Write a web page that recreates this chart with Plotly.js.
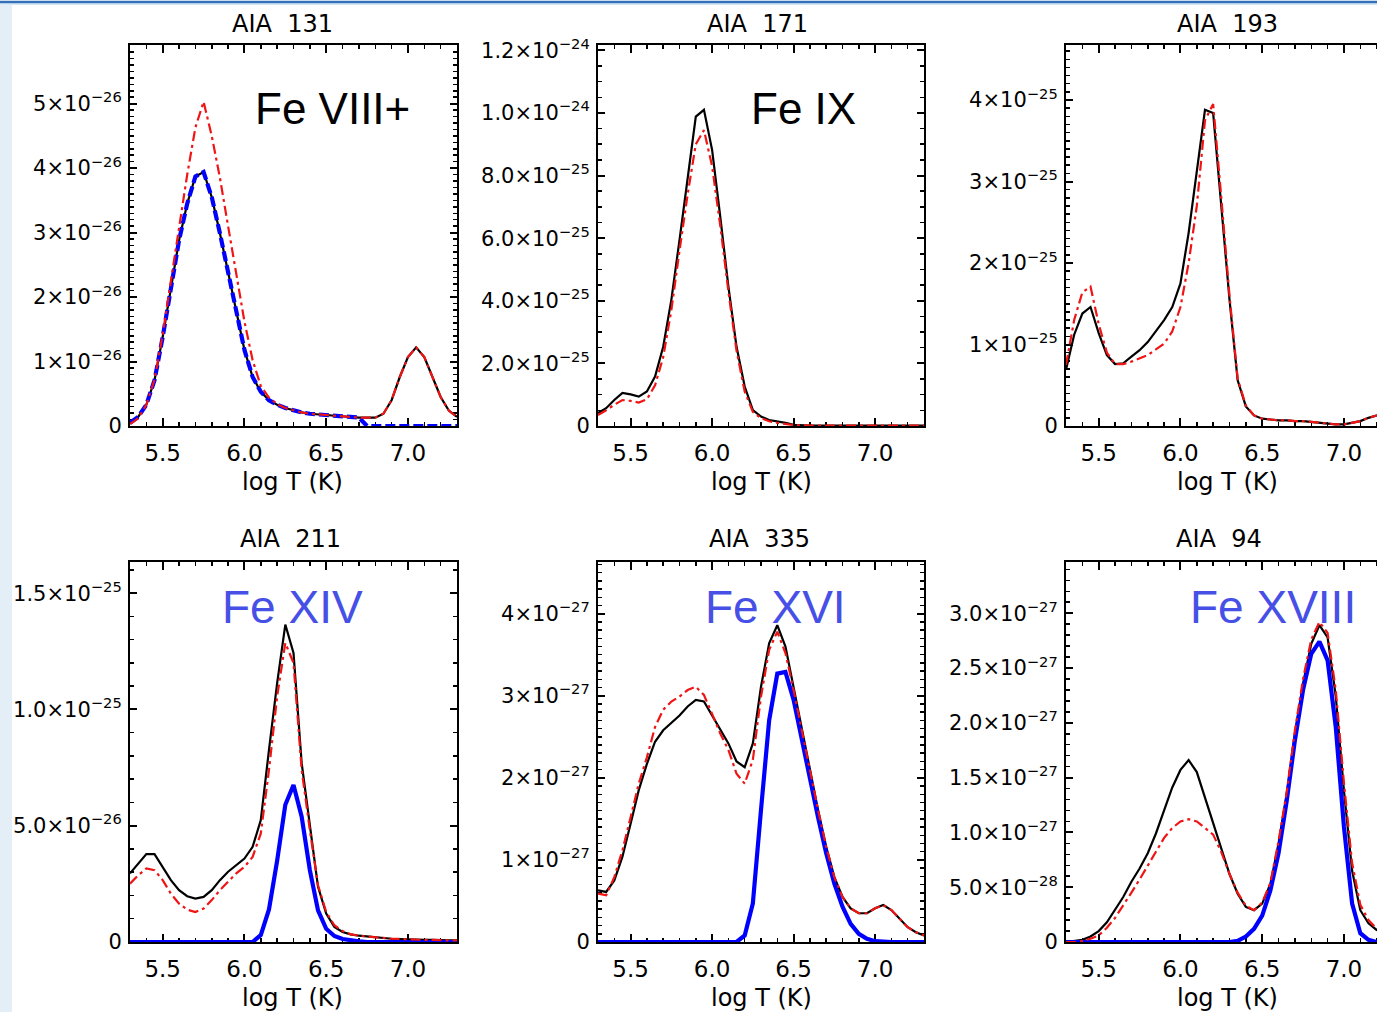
<!DOCTYPE html>
<html><head><meta charset="utf-8">
<script src="https://cdn.plot.ly/plotly-3.0.1.min.js"></script>
<style>
html,body{margin:0;padding:0;overflow:hidden;background:#fff;}
#wrap{width:1377px;height:1012px;overflow:hidden;}
#chart{width:1400px;height:1012px;}
</style>
</head><body><div id="wrap"><div id="chart"></div></div>
<script>
// ---- data (log T grid, values in units given per panel) ----
const logT = [5.30,5.35,5.40,5.45,5.50,5.55,5.60,5.65,5.70,5.75,5.80,5.85,5.90,5.95,6.00,6.05,6.10,6.15,6.20,6.25,6.30,6.35,6.40,6.45,6.50,6.55,6.60,6.65,6.70,6.75,6.80,6.85,6.90,6.95,7.00,7.05,7.10,7.15,7.20,7.25,7.30];

// AIA 131 (units 1e-26)
const aia131Black = [0.05,0.14,0.33,0.71,1.38,2.16,2.88,3.45,3.87,3.94,3.55,2.99,2.37,1.75,1.18,0.76,0.53,0.40,0.33,0.28,0.24,0.21,0.19,0.18,0.17,0.15,0.14,0.13,0.13,0.13,0.13,0.19,0.40,0.76,1.07,1.22,1.07,0.76,0.45,0.24,0.14];
const aia131Red   = [0.03,0.12,0.33,0.72,1.42,2.25,3.10,3.90,4.63,5.03,4.50,3.85,3.10,2.35,1.62,1.02,0.62,0.44,0.34,0.28,0.24,0.21,0.19,0.18,0.17,0.15,0.14,0.13,0.13,0.13,0.13,0.19,0.40,0.76,1.07,1.22,1.07,0.76,0.45,0.24,0.14];
const aia131Blue  = [0.05,0.14,0.33,0.71,1.38,2.16,2.88,3.45,3.87,3.94,3.55,2.99,2.37,1.75,1.18,0.76,0.53,0.40,0.33,0.28,0.24,0.21,0.19,0.18,0.17,0.15,0.14,0.13,0.13,0,0,0,0,0,0,0,0,0,0,0,0];

// AIA 171 (units 1e-25)
const aia171Black = [0.41,0.57,0.83,1.06,1.01,0.94,1.10,1.58,2.53,4.03,5.94,7.97,9.88,10.1,8.82,6.69,4.45,2.53,1.26,0.51,0.30,0.19,0.15,0.10,0.04,0.02,0.01,0.01,0.01,0.01,0.01,0.01,0.01,0.01,0.01,0.01,0.01,0.01,0.01,0.01,0.01];
const aia171Red   = [0.35,0.50,0.68,0.83,0.80,0.75,0.85,1.30,2.20,3.70,5.60,7.40,9.00,9.45,8.30,6.40,4.30,2.40,1.10,0.45,0.25,0.15,0.10,0.06,0.03,0.02,0.01,0.01,0.01,0.01,0.01,0.01,0.01,0.01,0.01,0.01,0.01,0.01,0.01,0.01,0.01];

// AIA 193 (units 1e-25)
const aia193Black = [0.69,1.12,1.38,1.46,1.14,0.87,0.76,0.77,0.85,0.93,1.03,1.16,1.30,1.46,1.75,2.37,3.10,3.88,3.84,2.69,1.55,0.56,0.24,0.13,0.09,0.08,0.07,0.07,0.06,0.06,0.05,0.04,0.03,0.02,0.02,0.04,0.06,0.10,0.13,0.16,0.19];
const aia193Red   = [0.75,1.30,1.64,1.71,1.25,0.90,0.76,0.76,0.79,0.83,0.87,0.94,1.01,1.16,1.46,2.00,2.70,3.75,3.95,2.80,1.60,0.58,0.25,0.13,0.09,0.08,0.07,0.07,0.06,0.06,0.05,0.04,0.03,0.02,0.02,0.04,0.06,0.10,0.13,0.16,0.19];

// AIA 211 (units 1e-26)
const aia211Black = [2.95,3.38,3.78,3.78,3.23,2.66,2.23,1.97,1.87,1.94,2.23,2.66,3.02,3.30,3.59,4.09,5.24,8.26,11.13,13.65,12.43,7.69,4.96,2.37,1.22,0.65,0.43,0.33,0.27,0.23,0.20,0.17,0.14,0.13,0.11,0.10,0.09,0.09,0.07,0.07,0.07];
const aia211Red   = [2.51,2.87,3.16,3.09,2.66,2.08,1.65,1.39,1.29,1.44,1.80,2.23,2.59,2.95,3.23,3.66,4.67,7.40,10.56,12.86,12.00,7.40,4.81,2.44,1.29,0.72,0.47,0.33,0.27,0.23,0.20,0.17,0.14,0.13,0.11,0.10,0.09,0.09,0.07,0.07,0.07];
const aia211Blue  = [0,0,0,0,0,0,0,0,0,0,0,0,0,0,0,0,0.30,1.40,3.50,5.90,6.75,5.39,3.09,1.36,0.57,0.26,0.13,0.06,0.03,0,0,0,0,0,0,0,0,0,0,0,0];

// AIA 335 (units 1e-27)
const aia335Black = [0.63,0.61,0.75,1.04,1.44,1.85,2.17,2.44,2.58,2.67,2.76,2.87,2.95,2.93,2.76,2.60,2.42,2.20,2.13,2.42,3.11,3.64,3.86,3.60,3.11,2.58,2.09,1.61,1.16,0.79,0.55,0.41,0.35,0.35,0.41,0.45,0.39,0.28,0.18,0.12,0.08];
const aia335Red   = [0.59,0.57,0.79,1.12,1.52,1.93,2.25,2.62,2.83,2.93,2.99,3.07,3.11,3.01,2.78,2.54,2.34,2.05,1.93,2.22,2.99,3.56,3.78,3.52,3.07,2.58,2.09,1.61,1.16,0.79,0.55,0.41,0.35,0.35,0.41,0.45,0.39,0.28,0.18,0.12,0.08];
const aia335Blue  = [0,0,0,0,0,0,0,0,0,0,0,0,0,0,0,0,0,0,0.08,0.47,1.61,2.70,3.27,3.29,2.95,2.46,1.97,1.52,1.08,0.71,0.43,0.22,0.10,0.04,0.01,0,0,0,0,0,0];

// AIA 94 (units 1e-27)
const aia94Black = [0,0.01,0.02,0.05,0.10,0.18,0.29,0.41,0.55,0.67,0.81,0.99,1.20,1.41,1.57,1.66,1.55,1.32,1.08,0.84,0.62,0.44,0.32,0.29,0.35,0.53,0.90,1.35,1.90,2.36,2.72,2.89,2.78,2.24,1.38,0.65,0.29,0.17,0.11,0.08,0.05];
const aia94Red   = [0,0,0.01,0.03,0.06,0.13,0.22,0.33,0.45,0.57,0.70,0.83,0.95,1.04,1.10,1.12,1.10,1.04,0.98,0.82,0.62,0.45,0.33,0.29,0.36,0.54,0.92,1.37,1.93,2.40,2.76,2.92,2.82,2.30,1.45,0.72,0.34,0.20,0.12,0.09,0.06];
const aia94Blue  = [0,0,0,0,0,0,0,0,0,0,0,0,0,0,0,0,0,0,0,0,0,0.01,0.05,0.12,0.24,0.47,0.81,1.29,1.84,2.30,2.63,2.74,2.57,1.96,1.05,0.35,0.08,0.02,0,0,0];

// tick labels
const xTickVals = [5.5,6.0,6.5,7.0];
const xTickText = ['5.5','6.0','6.5','7.0'];
const y131Vals = [0,1,2,3,4,5];
const y131Text = ['0','1\u00d710<sup>\u221226</sup>','2\u00d710<sup>\u221226</sup>','3\u00d710<sup>\u221226</sup>','4\u00d710<sup>\u221226</sup>','5\u00d710<sup>\u221226</sup>'];
const y171Vals = [0,2,4,6,8,10,12];
const y171Text = ['0','2.0\u00d710<sup>\u221225</sup>','4.0\u00d710<sup>\u221225</sup>','6.0\u00d710<sup>\u221225</sup>','8.0\u00d710<sup>\u221225</sup>','1.0\u00d710<sup>\u221224</sup>','1.2\u00d710<sup>\u221224</sup>'];
const y193Vals = [0,1,2,3,4];
const y193Text = ['0','1\u00d710<sup>\u221225</sup>','2\u00d710<sup>\u221225</sup>','3\u00d710<sup>\u221225</sup>','4\u00d710<sup>\u221225</sup>'];
const y211Vals = [0,5,10,15];
const y211Text = ['0','5.0\u00d710<sup>\u221226</sup>','1.0\u00d710<sup>\u221225</sup>','1.5\u00d710<sup>\u221225</sup>'];
const y335Vals = [0,1,2,3,4];
const y335Text = ['0','1\u00d710<sup>\u221227</sup>','2\u00d710<sup>\u221227</sup>','3\u00d710<sup>\u221227</sup>','4\u00d710<sup>\u221227</sup>'];
const y94Vals = [0,0.5,1.0,1.5,2.0,2.5,3.0];
const y94Text = ['0','5.0\u00d710<sup>\u221228</sup>','1.0\u00d710<sup>\u221227</sup>','1.5\u00d710<sup>\u221227</sup>','2.0\u00d710<sup>\u221227</sup>','2.5\u00d710<sup>\u221227</sup>','3.0\u00d710<sup>\u221227</sup>'];

const panelTitles = ['AIA\u00a0\u00a0131','AIA\u00a0\u00a0171','AIA\u00a0\u00a0193','AIA\u00a0\u00a0211','AIA\u00a0\u00a0335','AIA\u00a0\u00a094'];
const ionLabels = ['Fe VIII+','Fe IX','','Fe XIV','Fe XVI','Fe XVIII'];

// ---- layout geometry (pixels) ----
const W = 1400, H = 1012;
const PX = v => v / W, PY = v => 1 - v / H;
const boxes = [
  {x0:130, x1:457, y0:45, y1:426},
  {x0:598, x1:924, y0:45, y1:426},
  {x0:1066, x1:1393, y0:45, y1:426},
  {x0:130, x1:457, y0:562, y1:942},
  {x0:598, x1:924, y0:562, y1:942},
  {x0:1066, x1:1393, y0:562, y1:942}
];
const panels = [
  {black:aia131Black, red:aia131Red, blue:aia131Blue, blueDash:'10px,4px', ymax:5.91, yv:y131Vals, yt:y131Text, minor:0.1},
  {black:aia171Black, red:aia171Red, blue:null, ymax:12.17, yv:y171Vals, yt:y171Text, minor:0.5},
  {black:aia193Black, red:aia193Red, blue:null, ymax:4.675, yv:y193Vals, yt:y193Text, minor:0.1},
  {black:aia211Black, red:aia211Red, blue:aia211Blue, blueDash:'solid', ymax:16.34, yv:y211Vals, yt:y211Text, minor:1},
  {black:aia335Black, red:aia335Red, blue:aia335Blue, blueDash:'solid', ymax:4.63, yv:y335Vals, yt:y335Text, minor:0.1},
  {black:aia94Black, red:aia94Red, blue:aia94Blue, blueDash:'solid', ymax:3.467, yv:y94Vals, yt:y94Text, minor:0.1}
];
const titleCenters = [[282,23.8],[757.5,23.8],[1227.5,23.8],[290,538.7],[759,538.7],[1219,538.7]];
const xTitleCenters = [[292.5,482],[761,482],[1227.5,482],[292.5,998],[761,998],[1227.5,998]];
const ionPos = [[253,108.8,'#000000',44],[749,108.5,'#000000',44],null,[219.5,606.5,'#4650e6',46],[702.5,606.5,'#4650e6',46],[1188,606.5,'#4650e6',46]];

const traces = [];
const layout = {
  width: W, height: H,
  margin: {l:0, r:0, t:0, b:0},
  paper_bgcolor: '#ffffff', plot_bgcolor: '#ffffff',
  showlegend: false,
  annotations: [], shapes: []
};

panels.forEach((p, i) => {
  const n = i === 0 ? '' : String(i + 1);
  const xa = 'x' + n, ya = 'y' + n;
  const b = boxes[i];
  traces.push({x: logT, y: p.black, xaxis: xa, yaxis: ya, type: 'scatter', mode: 'lines',
    line: {color: '#000000', width: 2.2}, cliponaxis: false, hoverinfo: 'skip'});
  if (p.blue) traces.push({x: logT, y: p.blue, xaxis: xa, yaxis: ya, type: 'scatter', mode: 'lines',
    line: {color: '#0000ff', width: 4.2, dash: p.blueDash}, cliponaxis: false, hoverinfo: 'skip'});
  traces.push({x: logT, y: p.red, xaxis: xa, yaxis: ya, type: 'scatter', mode: 'lines',
    line: {color: '#f01414', width: 2.2, dash: '10px,4px,3px,4px'}, cliponaxis: false, hoverinfo: 'skip'});

  layout['xaxis' + n] = {
    domain: [PX(b.x0), PX(b.x1)], anchor: ya, range: [5.3, 7.3],
    tickmode: 'array', tickvals: xTickVals, ticktext: xTickText,
    ticks: 'inside', ticklen: 8, tickwidth: 2, tickcolor: '#000',
    minor: {ticks: 'inside', tickmode: 'linear', tick0: 5.0, dtick: 0.1, ticklen: 4, tickwidth: 1.5, tickcolor: '#000', showgrid: false},
    showline: true, linewidth: 2, linecolor: '#000', mirror: 'allticks',
    showgrid: false, zeroline: false, layer: 'below traces', fixedrange: true,
    tickfont: {family: 'DejaVu Sans', size: 23, color: '#000'}, ticklabelstandoff: 5
  };
  layout['yaxis' + n] = {
    domain: [PY(b.y1), PY(b.y0)], anchor: xa, range: [0, p.ymax],
    tickmode: 'array', tickvals: p.yv, ticktext: p.yt,
    ticks: 'inside', ticklen: 7, tickwidth: 2, tickcolor: '#000',
    minor: {ticks: 'inside', tickmode: 'linear', tick0: 0, dtick: p.minor, ticklen: 4, tickwidth: 1.5, tickcolor: '#000', showgrid: false},
    showline: true, linewidth: 2, linecolor: '#000', mirror: 'allticks',
    showgrid: false, zeroline: false, layer: 'below traces', fixedrange: true,
    tickfont: {family: 'DejaVu Sans', size: 21, color: '#000'}, ticklabelstandoff: 2
  };

  layout.annotations.push({text: panelTitles[i], xref: 'paper', yref: 'paper',
    x: PX(titleCenters[i][0]), y: PY(titleCenters[i][1]), xanchor: 'center', yanchor: 'middle',
    showarrow: false, font: {family: 'DejaVu Sans', size: 24, color: '#000'}});
  layout.annotations.push({text: 'log\u00a0T\u00a0(K)', xref: 'paper', yref: 'paper',
    x: PX(xTitleCenters[i][0]), y: PY(xTitleCenters[i][1]), xanchor: 'center', yanchor: 'middle',
    showarrow: false, font: {family: 'DejaVu Sans', size: 24, color: '#000'}});
  if (ionPos[i]) layout.annotations.push({text: ionLabels[i], xref: 'paper', yref: 'paper',
    x: PX(ionPos[i][0]), y: PY(ionPos[i][1]), xanchor: 'left', yanchor: 'middle',
    showarrow: false, font: {family: 'Liberation Sans, Arial, sans-serif', size: ionPos[i][3], color: ionPos[i][2]}});
});

// page frame: blue top rule and pale left strip
layout.shapes.push({type: 'rect', xref: 'paper', yref: 'paper', x0: 0, x1: 1, y0: PY(3.2), y1: PY(0.8), fillcolor: '#3470b8', line: {width: 0}, layer: 'above'});
layout.shapes.push({type: 'rect', xref: 'paper', yref: 'paper', x0: 0, x1: 1, y0: PY(4.4), y1: PY(3.2), fillcolor: '#a9cbe9', line: {width: 0}, layer: 'above'});
layout.shapes.push({type: 'rect', xref: 'paper', yref: 'paper', x0: 0, x1: PX(12), y0: 0, y1: PY(4.4), fillcolor: '#e3eef6', line: {width: 0}, layer: 'above'});

Plotly.newPlot('chart', traces, layout, {staticPlot: true, displayModeBar: false});
</script>
</body></html>
